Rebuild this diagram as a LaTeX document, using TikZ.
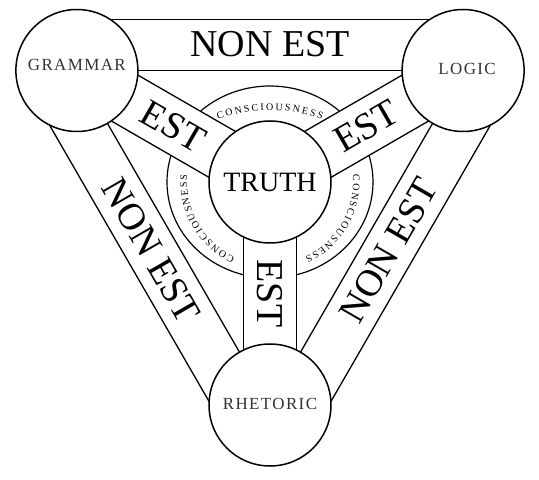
\documentclass[tikz,border=0pt]{standalone}
\usepackage{fontspec}
\setmainfont{Liberation Serif}
\newfontfamily\lblfont[LetterSpace=8]{Liberation Serif}
\usetikzlibrary{decorations.text}
\newcommand\ringfnt{\fontsize{10}{10}\selectfont}
\begin{document}
\begin{tikzpicture}[x=1pt,y=1pt,
  bandline/.style={line width=1.3pt},
  bigcirc/.style={circle, draw, fill=white, line width=1.5pt, minimum size=122pt, inner sep=0pt},
  lbl/.style={font=\lblfont\fontsize{17}{17}\selectfont, text=black!80},
  bandtxt/.style={font=\fontsize{38}{38}\selectfont, inner sep=0pt},
  ringtxt/.style={decorate, decoration={text along path, text={|\ringfnt|CONSCIOUSNESS}, text align={fit to path}}}
]
\useasboundingbox (0,0) rectangle (539,480);
\coordinate (C) at (270,298);

% consciousness ring
\draw[line width=1.2pt] (C) ellipse[x radius=103, y radius=96];

% EST bands (vertex circle to TRUTH)
\foreach \a in {150,30,270}{
  \begin{scope}[shift={(C)}, rotate=\a]
    \fill[white] (40,-27) rectangle (168,27);
    \draw[bandline] (54.94,26.5) -- (168.06,26.5);
    \draw[bandline] (54.94,-26.5) -- (168.06,-26.5);
  \end{scope}
}

% NON EST bands (outer sides)
\foreach \a in {0,120,240}{
  \begin{scope}[shift={(C)}, rotate=\a]
    \draw[bandline] (-132.1,111.5) -- (132.1,111.5);
    \draw[bandline] (-159.6,162.5) -- (159.6,162.5);
  \end{scope}
}
\draw[line width=1.9pt] (110.5,460.5) -- (429.5,460.5);

% circles
\node[bigcirc] (G) at (76.88,409.5) {};
\node[bigcirc] (L) at (463.12,409.5) {};
\node[bigcirc] (R) at (270,75) {};
\node[bigcirc, font=\fontsize{28}{28}\selectfont] (T) at (C) {TRUTH};

\node[lbl] (gl) at ([yshift=5.5]G.center) {GRAMMAR};
\node[lbl] (ll) at ([xshift=4,yshift=2]L.center) {LOGIC};
\node[lbl] (rl) at ([yshift=1]R.center) {RHETORIC};

% band texts
\node[bandtxt] (n1) at (270,435.5) {NON EST};
\node[bandtxt, rotate=-60] (n2) at (151.35,229.5) {NON EST};
\node[bandtxt, rotate=60] (n3) at (388.65,229.5) {NON EST};
\node[bandtxt, rotate=-30] (e1) at (173.44,353.75) {EST};
\node[bandtxt, rotate=30] (e2) at (366.56,353.75) {EST};
\node[bandtxt, rotate=-90] (e3) at (270,186.5) {EST};

% ring inscriptions
\begin{scope}[color=black!80]
  \begin{scope}[shift={(270,225)}]
    \path[ringtxt] (111:145) arc[start angle=111, end angle=69, radius=145];
  \end{scope}
  \begin{scope}[shift={(C)}]
    \path[ringtxt] (245:83) arc[start angle=245, end angle=175, radius=83];
    \path[ringtxt] (5:83) arc[start angle=5, end angle=-65, radius=83];
  \end{scope}
\end{scope}
\end{tikzpicture}
\end{document}
